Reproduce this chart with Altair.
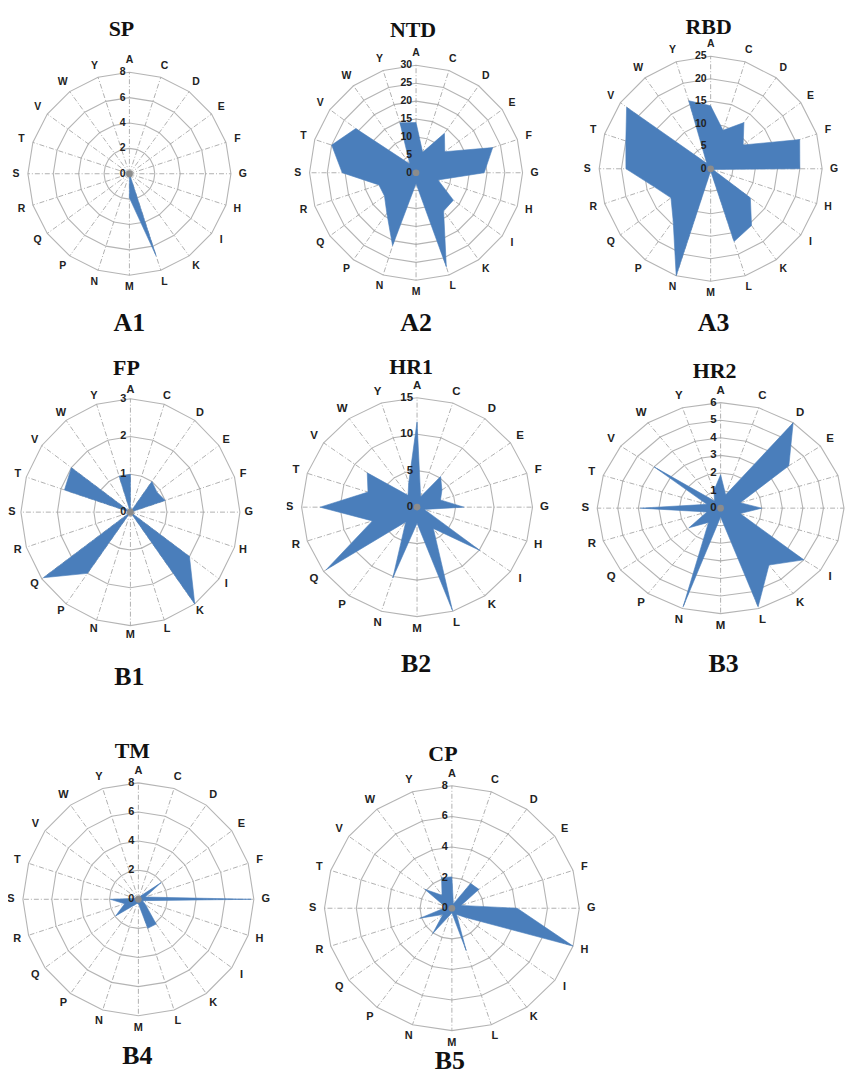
import altair as alt
import pandas as pd

CATS = ["A", "C", "D", "E", "F", "G", "H", "I", "K", "L",
        "M", "N", "P", "Q", "R", "S", "T", "V", "W", "Y"]

SP = [0, 0, 0, 0, 0, 0, 0, 0, 0, 6.8, 1.9, 0, 0, 0, 0, 0, 0, 0, 0, 0]
NTD = [14, 6, 13.6, 10, 22.7, 19.2, 6.5, 13, 13.2, 27.6, 3, 21.4, 14, 11, 11, 20.8, 25, 21, 3, 14.7]
RBD = [14, 9, 12.7, 9, 21, 20, 0.5, 11, 15.6, 17, 0.5, 25, 14.3, 11, 13.2, 19, 20, 23.3, 1.5, 15.9]
FP = [1, 0, 1, 0.9, 1, 0, 0, 2, 3, 0, 0, 0, 2, 2.95, 0, 0, 1.9, 2, 0, 1]
HR1 = [11.7, 1.5, 5.2, 4, 3.2, 6.1, 1, 10.1, 3.6, 14.9, 2.2, 10.2, 2.5, 14.6, 6.1, 12.6, 6.7, 8, 2, 3.5]
HR2 = [1.9, 0.8, 6, 4.1, 1, 2, 1, 5, 4, 5.9, 0.5, 5.9, 1, 1.9, 0.7, 3.9, 0.7, 4, 0.5, 1.05]
TM = [0, 0, 0.3, 1.95, 0.5, 7.8, 0.3, 0.6, 2.1, 2.1, 0.3, 0.3, 0.5, 1.95, 1, 1.95, 0.2, 0, 0, 0]
CP = [2.05, 0.3, 2, 2.1, 0.6, 4.1, 8, 1, 0.5, 2.9, 0.3, 0.5, 2.05, 0.7, 2.1, 0.5, 0.5, 2.1, 1.05, 2.1]

TICKS_SP = [0, 2, 4, 6, 8]
TICKS_NTD = [0, 5, 10, 15, 20, 25, 30]
TICKS_RBD = [0, 5, 10, 15, 20, 25]
TICKS_FP = [0, 1, 2, 3]
TICKS_HR1 = [0, 5, 10, 15]
TICKS_HR2 = [0, 1, 2, 3, 4, 5, 6]
TICKS_TM = [0, 2, 4, 6, 8]
TICKS_CP = [0, 2, 4, 6, 8]

TITLES = ["SP", "NTD", "RBD", "FP", "HR1", "HR2", "TM", "CP"]
TAGS = ["A1", "A2", "A3", "B1", "B2", "B3", "B4", "B5"]

BLUE = "#4A7EBB"
N = len(CATS)


def panel(title, tag, values, ticks, W, H, cx, cy, rx, ry, tpos, gpos, fs, off=12):
    rmax = ticks[-1]
    kx = rx / rmax
    ky = ry / rmax
    xsc = alt.Scale(domain=[-cx / kx, (W - cx) / kx], nice=False, zero=False)
    ysc = alt.Scale(domain=[-(H - cy) / ky, cy / ky], nice=False, zero=False)

    def X(f):
        return alt.X(f, type="quantitative", scale=xsc, axis=None)

    def Y(f):
        return alt.Y(f, type="quantitative", scale=ysc, axis=None)

    ang = f"datum.i*2*PI/{N}"

    ring_df = pd.DataFrame([{"t": t, "i": i} for t in ticks if t > 0 for i in range(N + 1)])
    rings = alt.Chart(ring_df).transform_calculate(
        x=f"datum.t*sin({ang})", y=f"datum.t*cos({ang})"
    ).mark_line(color="#b4b4b4", strokeWidth=1.1).encode(
        x=X("x"), y=Y("y"), detail="t:N", order="i:Q"
    )

    spoke_df = pd.DataFrame({"i": list(range(N))})
    spokes = alt.Chart(spoke_df).transform_calculate(
        x0="0", y0="0", x=f"{rmax}*sin({ang})", y=f"{rmax}*cos({ang})"
    ).mark_rule(color="#a8a8a8", strokeWidth=0.9, strokeDash=[5, 2, 1, 2]).encode(
        x=X("x0"), y=Y("y0"), x2="x:Q", y2="y:Q"
    )

    poly_df = pd.DataFrame({"i": list(range(N + 1)), "v": list(values) + [values[0]]})
    poly = alt.Chart(poly_df).transform_calculate(
        x=f"datum.v*sin({ang})", y=f"datum.v*cos({ang})"
    ).mark_line(filled=True, fill=BLUE, stroke=BLUE, strokeWidth=0.6, fillOpacity=1).encode(
        x=X("x"), y=Y("y"), order="i:Q"
    )

    dot = alt.Chart(pd.DataFrame({"x": [0], "y": [0]})).mark_circle(
        size=45, color="#8c8c8c", opacity=1
    ).encode(x=X("x"), y=Y("y"))

    cat_df = pd.DataFrame({"i": list(range(N)), "cat": CATS})
    labels = alt.Chart(cat_df).transform_calculate(
        lx=f"({rmax}+{off / kx})*sin({ang})", ly=f"({rmax}+{off / ky})*cos({ang})"
    ).mark_text(font="Liberation Sans", fontWeight="bold", fontSize=fs, color="#222222",
                baseline="middle", align="center", clip=True).encode(
        x=X("lx"), y=Y("ly"), text="cat:N"
    )

    tick_df = pd.DataFrame({"t": ticks})
    tlabels = alt.Chart(tick_df).transform_calculate(x0="0").mark_text(
        font="Liberation Sans", fontWeight="bold", fontSize=fs, color="#222222",
        align="right", baseline="middle", dx=-4
    ).encode(x=X("x0"), y=Y("t"), text=alt.Text("t:Q", format="d"))

    ttl = alt.Chart(pd.DataFrame({"s": [title]})).mark_text(
        font="Liberation Serif", fontWeight="bold", fontSize=22, color="#111111",
        baseline="middle", align="center"
    ).encode(x=alt.value(tpos[0]), y=alt.value(tpos[1]), text="s:N")

    tg = alt.Chart(pd.DataFrame({"s": [tag]})).mark_text(
        font="Liberation Serif", fontWeight="bold", fontSize=26, color="#111111",
        baseline="middle", align="center", clip=True
    ).encode(x=alt.value(gpos[0]), y=alt.value(gpos[1]), text="s:N")

    return alt.layer(rings, spokes, poly, dot, labels, tlabels, ttl, tg).properties(
        width=W, height=H
    )


H1, H2, H3 = 337, 375, 353

p1 = panel(TITLES[0], TAGS[0], SP, TICKS_SP, 280, H1, 122, 164, 102, 102, (114, 19), (122, 314), 10.5)
p2 = panel(TITLES[1], TAGS[1], NTD, TICKS_NTD, 280, H1, 130, 163, 107, 108, (127, 20), (130, 314), 10.5)
p3 = panel(TITLES[2], TAGS[2], RBD, TICKS_RBD, 279, H1, 146, 159, 112, 113, (144, 17), (149, 314), 10.5)
p4 = panel(TITLES[3], TAGS[3], FP, TICKS_FP, 280, H2, 123, 167, 110, 114, (119, 22), (122, 333), 11, 9)
p5 = panel(TITLES[4], TAGS[4], HR1, TICKS_HR1, 280, H2, 131, 162, 116, 110, (125, 21), (130, 320), 11.5)
p6 = panel(TITLES[5], TAGS[5], HR2, TICKS_HR2, 279, H2, 156, 163, 124, 106, (150, 25), (159, 320), 11.5)
p7 = panel(TITLES[6], TAGS[6], TM, TICKS_TM, 280, H3, 131, 181, 116, 117, (125, 32), (130, 338), 11)
p8 = panel(TITLES[7], TAGS[7], CP, TICKS_CP, 330, H3, 166, 190, 128, 123, (157, 35), (164, 344), 11)

chart = alt.vconcat(
    alt.hconcat(p1, p2, p3, spacing=0),
    alt.hconcat(p4, p5, p6, spacing=0),
    alt.hconcat(p7, p8, spacing=0),
    spacing=0,
).properties(padding=0).configure_view(stroke=None)

chart.save("out.html", embed_options={"renderer": "svg", "actions": False})
